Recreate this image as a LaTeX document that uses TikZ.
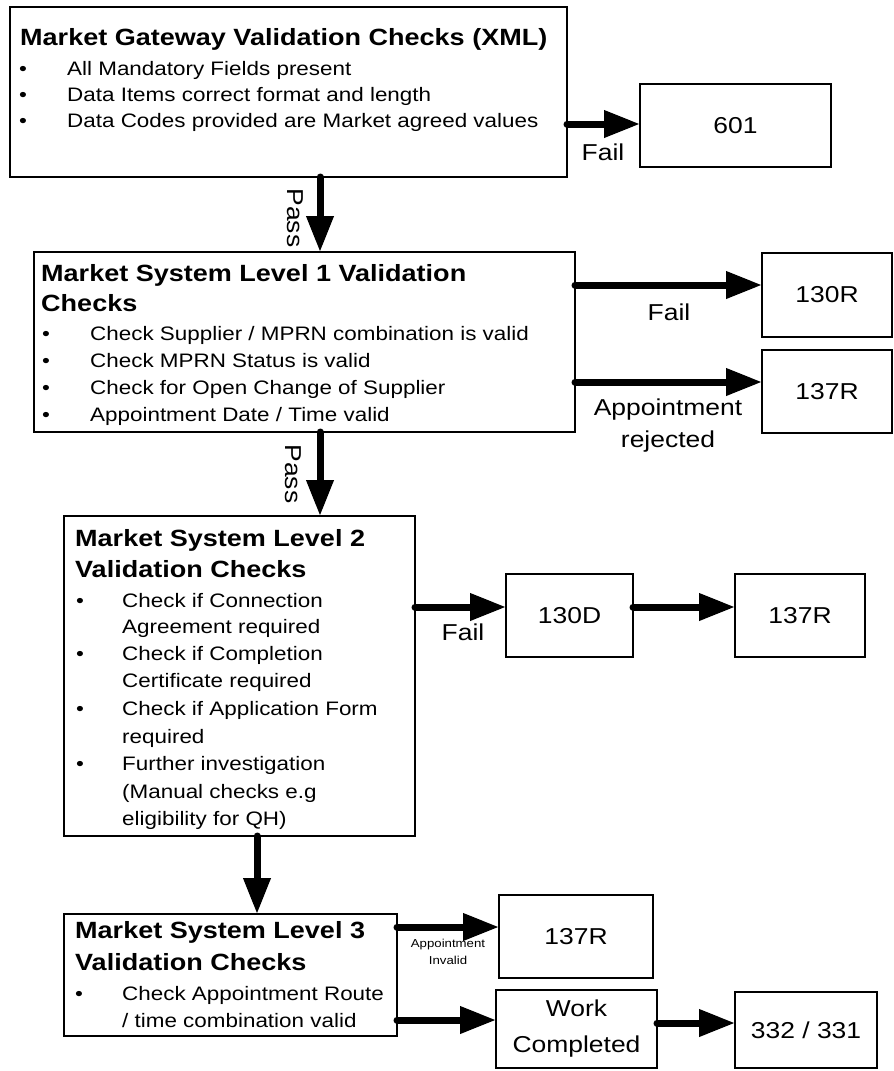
\documentclass[tikz,border=0pt]{standalone}
\usepackage{fontspec}
\setmainfont{Liberation Sans}[FakeStretch=1.15]
\usetikzlibrary{arrows.meta}
\begin{document}
\begin{tikzpicture}[x=1pt,y=-1pt,
  box/.style={draw=black, line width=1.6pt, fill=white, outer sep=0pt, inner sep=0pt, anchor=north west},
  arr/.style={line width=7pt, line cap=round, -{Triangle[length=36pt,width=26pt]}},
  ttl/.style={anchor=base west, inner sep=0pt, font=\fontsize{23.5}{28}\selectfont\bfseries},
  bul/.style={anchor=base, inner sep=0pt, font=\fontsize{19.5}{23}\selectfont},
  itm/.style={anchor=base west, inner sep=0pt, font=\fontsize{19.5}{23}\selectfont},
  lbl/.style={anchor=base, inner sep=0pt, font=\fontsize{23}{28}\selectfont},
  num/.style={font=\fontsize{23}{36}\selectfont, align=center}
]
\useasboundingbox (0,0) rectangle (894,1071);

% ---------- boxes ----------
\node[box, minimum width=557pt, minimum height=170pt] (b1) at (10,7) {};
\node[box, num, minimum width=191pt, minimum height=83pt] (b601) at (640,84) {601};
\node[box, minimum width=541pt, minimum height=180pt] (b2) at (34,252) {};
\node[box, num, minimum width=130pt, minimum height=84pt] (b130R) at (762,253) {130R};
\node[box, num, minimum width=130pt, minimum height=83pt] (b137Ra) at (762,350) {137R};
\node[box, minimum width=351pt, minimum height=320pt] (b3) at (64,516) {};
\node[box, num, minimum width=127pt, minimum height=83pt] (b130D) at (506,574) {130D};
\node[box, num, minimum width=130pt, minimum height=83pt] (b137Rb) at (735,574) {137R};
\node[box, minimum width=333pt, minimum height=122pt] (b4) at (64,914) {};
\node[box, num, minimum width=154pt, minimum height=83pt] (b137Rc) at (499,895) {137R};
\node[box, num, minimum width=161pt, minimum height=78pt] (bWC) at (496,990) {Work\\Completed};
\node[box, num, minimum width=142pt, minimum height=76pt] (b332) at (735,992) {332 / 331};

% ---------- box texts ----------
\node[ttl] (t1) at (20,45) {Market Gateway Validation Checks (XML)};
\node[bul] (t1b1) at (23,75) {\textbullet};
\node[bul] (t1b2) at (23,101) {\textbullet};
\node[bul] (t1b3) at (23,127) {\textbullet};
\node[itm] (t1i1) at (67,75) {All Mandatory Fields present};
\node[itm] (t1i2) at (67,101) {Data Items correct format and length};
\node[itm] (t1i3) at (67,127) {Data Codes provided are Market agreed values};

\node[ttl] (t2a) at (41,281) {Market System Level 1 Validation};
\node[ttl] (t2b) at (41,311) {Checks};
\node[bul] (t2b1) at (46,340) {\textbullet};
\node[bul] (t2b2) at (46,367) {\textbullet};
\node[bul] (t2b3) at (46,394) {\textbullet};
\node[bul] (t2b4) at (46,421) {\textbullet};
\node[itm] (t2i1) at (90,340) {Check Supplier / MPRN combination is valid};
\node[itm] (t2i2) at (90,367) {Check MPRN Status is valid};
\node[itm] (t2i3) at (90,394) {Check for Open Change of Supplier};
\node[itm] (t2i4) at (90,421) {Appointment Date / Time valid};

\node[ttl] (t3a) at (75,546) {Market System Level 2};
\node[ttl] (t3b) at (75,577) {Validation Checks};
\node[bul] (t3b1) at (80,607) {\textbullet};
\node[bul] (t3b2) at (80,660) {\textbullet};
\node[bul] (t3b3) at (80,715) {\textbullet};
\node[bul] (t3b4) at (80,770) {\textbullet};
\node[itm] (t3i1) at (122,607) {Check if Connection};
\node[itm] (t3i2) at (122,633) {Agreement required};
\node[itm] (t3i3) at (122,660) {Check if Completion};
\node[itm] (t3i4) at (122,687) {Certificate required};
\node[itm] (t3i5) at (122,715) {Check if Application Form};
\node[itm] (t3i6) at (122,743) {required};
\node[itm] (t3i7) at (122,770) {Further investigation};
\node[itm] (t3i8) at (122,798) {(Manual checks e.g};
\node[itm] (t3i9) at (122,825) {eligibility for QH)};

\node[ttl] (t4a) at (75,938) {Market System Level 3};
\node[ttl] (t4b) at (75,970) {Validation Checks};
\node[bul] (t4b1) at (79,1000) {\textbullet};
\node[itm] (t4i1) at (122,1000) {Check Appointment Route};
\node[itm] (t4i2) at (122,1027) {/ time combination valid};

% ---------- connectors ----------
\draw[arr] (b1.east |- 0,124) -- (b601.west |- 0,124);
\draw[arr] (320,0 |- b1.south) -- (320,0 |- b2.north);
\draw[arr] (b2.east |- 0,285) -- (b130R.west |- 0,285);
\draw[arr] (b2.east |- 0,382) -- (b137Ra.west |- 0,382);
\draw[arr] (320,0 |- b2.south) -- (320,0 |- b3.north);
\draw[arr] (b3.east |- 0,607) -- (b130D.west |- 0,607);
\draw[arr] (b130D.east |- 0,607) -- (b137Rb.west |- 0,607);
\draw[arr] (257,0 |- b3.south) -- (257,0 |- b4.north);
\draw[arr] (b4.east |- 0,927) -- (b137Rc.west |- 0,927);
\draw[arr] (b4.east |- 0,1020) -- (bWC.west |- 0,1020);
\draw[arr] (bWC.east |- 0,1023) -- (b332.west |- 0,1023);

% ---------- connector labels ----------
\node[lbl] (lf1) at (603,160) {Fail};
\node[lbl, anchor=center, rotate=-90] (lp1) at (295,218) {Pass};
\node[lbl] (lf2) at (669,320) {Fail};
\node[lbl] (lar1) at (668,415) {Appointment};
\node[lbl] (lar2) at (668,447) {rejected};
\node[lbl, anchor=center, rotate=-90] (lp2) at (293,474) {Pass};
\node[lbl] (lf3) at (463,640) {Fail};
\node[anchor=base, inner sep=0pt, font=\fontsize{11.5}{14}\selectfont] (lai1) at (448,947) {Appointment};
\node[anchor=base, inner sep=0pt, font=\fontsize{11.5}{14}\selectfont] (lai2) at (448,964) {Invalid};
\end{tikzpicture}
\end{document}
